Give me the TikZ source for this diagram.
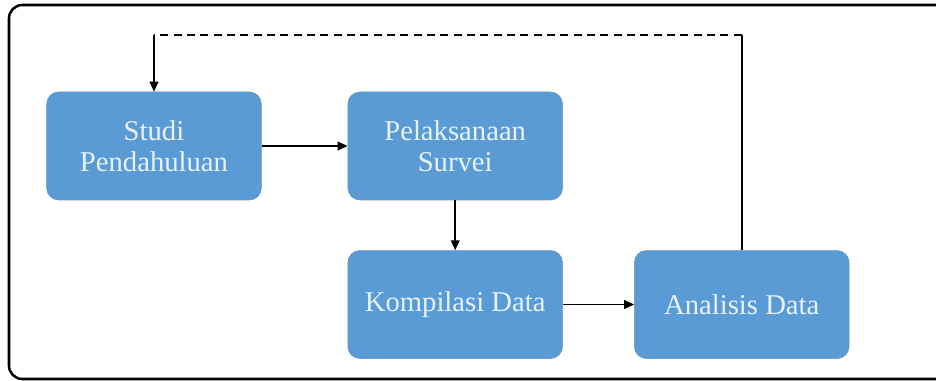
\documentclass[tikz,border=0pt]{standalone}
\usepackage{fontspec}
\setmainfont{Liberation Serif}
\usetikzlibrary{positioning, arrows.meta}
\definecolor{boxblue}{RGB}{91,155,213}
\definecolor{boxtext}{RGB}{232,242,252}
\tikzset {
    >={Triangle[length=7.5pt, width=6.5pt]},
    node distance=37.5pt and 64.5pt,
    every node/.style={font=\fontsize{21.5}{23}\selectfont},
    tahap/.style={fill=boxblue, draw=boxblue!80!gray, line width=0.4pt,
        rounded corners=9pt, text=boxtext, minimum width=161pt,
        minimum height=81pt, align=center, inner sep=2pt},
    panah/.style={->, line width=1.3pt}
}
\begin{document}
\begin{tikzpicture}[x=0.75pt, y=-0.75pt]
                            \useasboundingbox (0,0) rectangle (936,381);
                            \draw[line width=1.9pt, rounded corners=10pt] (936,5) -- (9,5) -- (9,379) -- (936,379);

                            \node[tahap] (studi) at (154,146) {Studi\\Pendahuluan};
                            \node[tahap, right=of studi] (survei) {Pelaksanaan\\Survei};
                            \node[tahap, below=of survei] (kompilasi) {Kompilasi Data};
                            \node[tahap, right=53.5pt of kompilasi] (analisis) {Analisis Data};
                            \coordinate (balik1) at (analisis.north |- 0,35);
                            \coordinate (balik2) at (studi.north |- 0,35);

                            \draw[panah] (studi) -- (survei);
                            \draw[panah] (survei) -- (kompilasi);
                            \draw[panah] (kompilasi) -- (analisis);
                            \draw[line width=1.3pt] (analisis.north) -- (balik1);
                            \draw[line width=1.3pt, dash pattern=on 6pt off 4pt] (balik1) -- (balik2);
                            \draw[panah] (balik2) -- (studi.north);
                        \end{tikzpicture}
\end{document}
